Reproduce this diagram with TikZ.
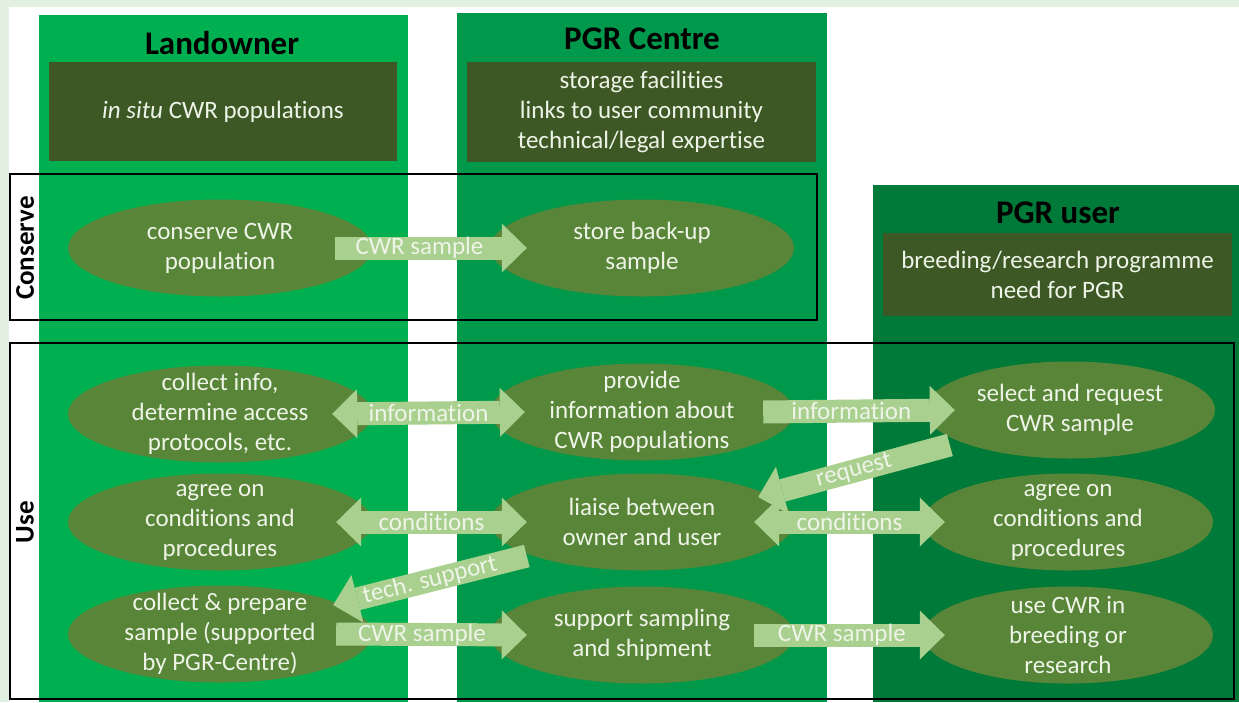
\documentclass[tikz,border=0pt]{standalone}
\usepackage{fontspec}
\setmainfont{Carlito}[Ligatures=NoCommon]
\usetikzlibrary{arrows.meta, positioning, shapes.geometric}

\definecolor{landgreen}{RGB}{0,176,80}
\definecolor{centregreen}{RGB}{0,153,76}
\definecolor{usergreen}{RGB}{0,122,56}
\definecolor{headdark}{RGB}{61,88,36}
\definecolor{ellgreen}{RGB}{88,133,55}
\definecolor{flowgreen}{RGB}{169,208,142}
\definecolor{paletext}{RGB}{238,244,232}
\definecolor{margingreen}{RGB}{226,240,226}

\tikzset{
  title/.style={font=\fontsize{33}{38}\selectfont\bfseries, text=black, inner sep=0pt},
  headbox/.style={fill=headdark, text=paletext, align=center, inner sep=0pt,
    font=\fontsize{25}{30}\selectfont},
  side/.style={font=\fontsize{27}{30}\selectfont\bfseries, rotate=90, inner sep=0pt},
  ell/.style={ellipse, fill=ellgreen, inner sep=0pt, minimum width=304pt, minimum height=97pt},
  elltxt/.style={align=center, text=paletext, inner sep=0pt, font=\fontsize{25}{30}\selectfont},
  flow/.style={draw=flowgreen, line width=23pt,
    -{Triangle[length=25pt, width=49pt, line width=0pt 0 0]}},
  dflow/.style={draw=flowgreen, line width=23pt,
    {Triangle[length=25pt, width=49pt, line width=0pt 0 0]}-{Triangle[length=25pt, width=49pt, line width=0pt 0 0]}},
  flowlbl/.style={text=paletext, inner sep=0pt, font=\fontsize{25}{30}\selectfont},
}

\begin{document}
\begin{tikzpicture}[x=1pt, y=-1pt]
    \useasboundingbox (0,0) rectangle (1239,702);
    \fill[margingreen] (0,0) rectangle (1239,702);
    \fill[white] (9,7) rectangle (1239,702);

    % actor columns
    \fill[landgreen] (39,15) rectangle (408,702);
    \fill[centregreen] (457,13) rectangle (827,702);
    \fill[usergreen] (873,185) rectangle (1239,702);

    \node[title] (land) at (222,43) {Landowner};
    \node[title] (centre) at (642,39) {PGR Centre};
    \node[title] (user) at (1058,213) {PGR user};

    \node[headbox, minimum width=348pt, minimum height=99pt] (landinfo) at (223,111.5)
        {\emph{in situ} CWR populations};
    \node[headbox, minimum width=349pt, minimum height=100pt] (centreinfo) at (641.5,112)
        {storage facilities\\links to user community\\technical/legal expertise};
    \node[headbox, minimum width=349pt, minimum height=83pt] (userinfo) at (1057.5,274.5)
        {breeding/research programme\\need for PGR};

    % phases
    \draw[line width=1.5pt] (10,174) rectangle (817,320);
    \draw[line width=1.5pt] (10,343) rectangle (1234,699);
    \node[side] (conslbl) at (25,248) {Conserve};
    \node[side] (uselbl) at (25,522) {Use};

    % activities
    \node[ell] (cons) at (220,248) {};
    \node[ell] (store) at (642,248) {};
    \node[ell] (coll) at (220,414) {};
    \node[ell] (prov) at (642,412) {};
    \node[ell, minimum width=290pt] (sel) at (1070,410) {};
    \node[ell] (agr) at (220,522) {};
    \node[ell] (liai) at (642,522) {};
    \node[ell, minimum width=290pt] (agru) at (1068,522) {};
    \node[ell] (prep) at (220,634) {};
    \node[ell] (supp) at (642,635) {};
    \node[ell, minimum width=290pt] (usecwr) at (1068,635) {};

    \node[elltxt] (cons-t) at (cons) {conserve CWR\\population};
    \node[elltxt] (store-t) at (store) {store back-up\\sample};
    \node[elltxt] (coll-t) at (coll) {collect info,\\determine access\\protocols, etc.};
    \node[elltxt] (prov-t) at (prov) {provide\\information about\\CWR populations};
    \node[elltxt] (sel-t) at (sel) {select and request\\CWR sample};
    \node[elltxt] (agr-t) at (agr) {agree on\\conditions and\\procedures};
    \node[elltxt] (liai-t) at (liai) {liaise between\\owner and user};
    \node[elltxt] (agru-t) at (agru) {agree on\\conditions and\\procedures};
    \node[elltxt] (prep-t) at (prep) {collect \& prepare\\sample (supported\\by PGR-Centre)};
    \node[elltxt] (supp-t) at (supp) {support sampling\\and shipment};
    \node[elltxt] (usecwr-t) at (usecwr) {use CWR in\\breeding or\\research};

    % flows
    \draw[flow] ([xshift=-37pt]cons.east) -- node[flowlbl, pos=0.44] {CWR sample} ([xshift=37pt]store.west);
    \draw[dflow] ([xshift=-40pt]coll.east) -- node[flowlbl] {information} ([xshift=35pt]prov.west);
    \draw[flow] ([xshift=-31pt]prov.east) -- node[flowlbl, pos=0.46] {information} ([xshift=30pt]sel.west);
    \draw[flow] ([shift={(25,35)}]sel.west) -- node[flowlbl, sloped] {request} ([shift={(-36,-25)}]liai.east);
    \draw[dflow] ([xshift=-36pt]agr.east) -- node[flowlbl] {conditions} ([xshift=37pt]liai.west);
    \draw[dflow] ([xshift=-40pt]liai.east) -- node[flowlbl] {conditions} ([xshift=22pt]agru.west);
    \draw[flow] ([shift={(37,34)}]liai.west) -- node[flowlbl, sloped] {tech. support} ([shift={(-39,-29)}]prep.east);
    \draw[flow] ([xshift=-36pt]prep.east) -- node[flowlbl, pos=0.45] {CWR sample} ([xshift=37pt]supp.west);
    \draw[flow] ([xshift=-40pt]supp.east) -- node[flowlbl, pos=0.46] {CWR sample} ([xshift=22pt]usecwr.west);
\end{tikzpicture}
\end{document}
